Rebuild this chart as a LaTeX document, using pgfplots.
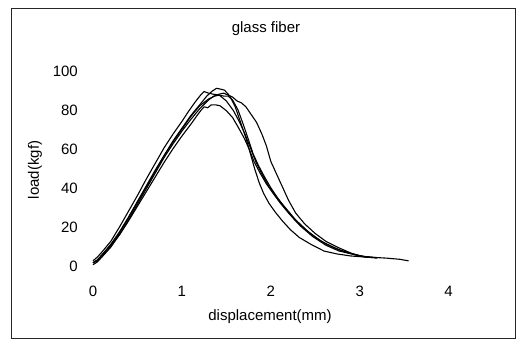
\documentclass[border=0pt]{standalone}
\usepackage{fontspec}
\setmainfont{Liberation Sans}
\usepackage{pgfplots}
\pgfplotsset{compat=1.18}
\tikzset{crv/.style={black, line width=1.1pt, mark=none, line join=round}}
\begin{document}
\fontsize{15bp}{18bp}\selectfont
\begin{tikzpicture}
\useasboundingbox (-93bp,-74.3bp) rectangle (425bp,266.7bp);
\draw[line width=0.8pt, black!85] (-82bp,-71.3bp) rectangle (422bp,258.7bp);
\begin{axis}[
  anchor=origin, at={(0,0)},
  x=88.9bp, y=1.95bp,
  xmin=0, xmax=4, ymin=0, ymax=100,
  axis line style={draw=none},
  major tick length=0pt,
  xtick={0,1,2,3,4}, ytick={0,20,40,60,80,100},
  /pgf/number format/assume math mode=true,
  tick label style={font=\fontsize{15bp}{18bp}\selectfont},
  xticklabel style={anchor=north, inner sep=0pt, yshift=-19.6bp},
  yticklabel style={anchor=east, inner sep=0pt, xshift=-15bp},
  title={glass fiber},
  every axis title/.style={at={(0.4865,1.219)}, anchor=center, inner sep=0pt, font=\fontsize{15bp}{18bp}\selectfont},
  xlabel={displacement(mm)},
  xlabel style={at={(0.4978,-0.258)}, anchor=center, inner sep=0pt, font=\fontsize{15bp}{18bp}\selectfont},
  ylabel={load(kgf)},
  ylabel style={at={(-0.163,0.496)}, anchor=center, inner sep=0pt, font=\fontsize{15bp}{18bp}\selectfont},
  clip=false,
]
% curve A (rightmost fall)
\addplot[crv] coordinates {(0,2) (0.05,3) (0.1,5) (0.15,7.5) (0.2,10) (0.3,16.5) (0.4,24) (0.5,32) (0.6,40) (0.7,48) (0.8,56) (0.9,63) (1.0,69.5) (1.1,75.5) (1.2,81) (1.3,85.5) (1.36,87.5) (1.42,88.5) (1.47,89) (1.52,88) (1.57,87) (1.62,85) (1.67,84) (1.72,82) (1.78,78) (1.84,74) (1.9,68) (1.95,62) (2.0,54) (2.06,48) (2.13,41) (2.2,34) (2.28,27.5) (2.38,22) (2.5,17) (2.62,13) (2.75,10) (2.9,7) (3.0,5.5) (3.15,4.8) (3.3,4.4) (3.45,3.8) (3.55,3)};
% curve B (leftmost fall, lowest tail)
\addplot[crv] coordinates {(0,1) (0.05,2.5) (0.1,5) (0.2,10.5) (0.3,17.5) (0.4,25) (0.5,33) (0.6,41) (0.7,49) (0.8,57) (0.9,64.5) (1.0,71) (1.1,77.5) (1.2,83) (1.28,87.5) (1.34,90) (1.39,91.5) (1.44,91) (1.48,90.5) (1.54,87.5) (1.6,82) (1.66,74) (1.72,66) (1.77,58) (1.82,50) (1.87,43) (1.92,37.5) (1.98,32.5) (2.05,28) (2.13,23.5) (2.22,19) (2.32,15) (2.45,11.5) (2.6,8) (2.75,6.5) (2.9,5.5) (3.05,5) (3.2,4.5)};
% curve C (lowest peak)
\addplot[crv] coordinates {(0,2) (0.05,3.5) (0.1,6) (0.2,11) (0.3,16.5) (0.4,23.5) (0.5,31) (0.6,38.5) (0.7,46) (0.8,53.5) (0.9,60.5) (1.0,67) (1.1,73) (1.17,77.5) (1.22,80.5) (1.25,82) (1.29,81.5) (1.33,83) (1.38,83) (1.43,82.5) (1.5,80) (1.57,76.5) (1.64,71) (1.7,66) (1.76,60) (1.81,54) (1.88,48) (1.95,42.5) (2.02,38) (2.1,33) (2.2,27.5) (2.33,21) (2.47,15.5) (2.62,11) (2.77,8) (2.92,6.5) (3.05,5) (3.2,4.5)};
% curve D (leftmost rise)
\addplot[crv] coordinates {(0,3) (0.05,5) (0.1,7.5) (0.2,13) (0.3,20.5) (0.4,28.5) (0.5,36.5) (0.6,45) (0.7,53) (0.8,61) (0.9,68) (1.0,74.5) (1.08,80) (1.15,84.5) (1.21,88) (1.25,89.8) (1.3,89) (1.35,88.5) (1.42,88) (1.5,85) (1.58,80) (1.65,74) (1.71,68) (1.77,61) (1.83,54) (1.9,47.5) (1.98,41) (2.07,35.5) (2.15,31) (2.28,24) (2.42,18) (2.57,13) (2.72,9.5) (2.87,7) (3.0,5.5) (3.1,5)};
% curve E
\addplot[crv] coordinates {(0,2) (0.05,3.5) (0.1,6) (0.2,11.5) (0.3,18) (0.4,25.5) (0.5,33.5) (0.6,41.5) (0.7,49.5) (0.8,57) (0.9,64) (1.0,70.5) (1.1,77) (1.2,82.5) (1.3,86) (1.37,87.5) (1.42,88) (1.47,87.5) (1.52,87.5) (1.57,85.5) (1.63,80.5) (1.69,73) (1.75,65) (1.8,58) (1.86,52) (1.93,46) (2.0,40.5) (2.08,35) (2.17,29.5) (2.27,24) (2.38,19.5) (2.5,15) (2.63,11.5) (2.78,8.5) (2.93,6.5) (3.05,5.2) (3.2,4.6)};
\end{axis}
\end{tikzpicture}
\end{document}
